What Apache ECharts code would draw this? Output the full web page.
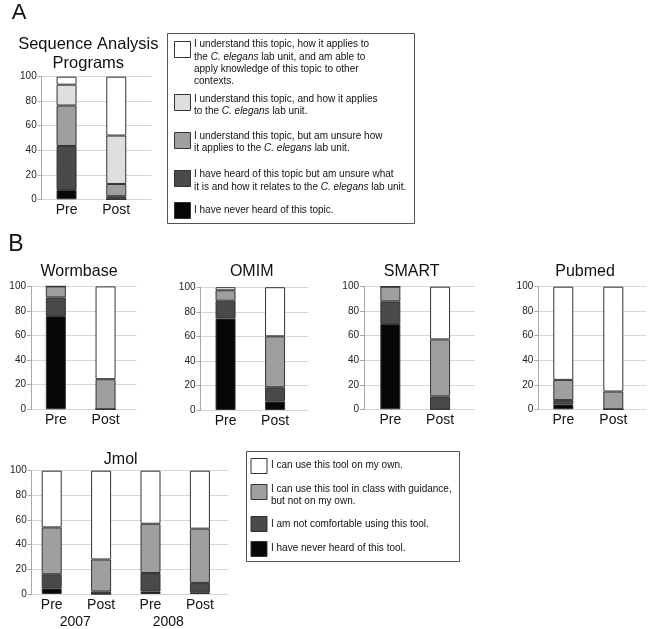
<!DOCTYPE html>
<html><head><meta charset="utf-8">
<script src="https://cdn.jsdelivr.net/npm/echarts@6/dist/echarts.min.js"></script>
<style>html,body{margin:0;padding:0;background:#fff}#c{width:648px;height:629px}</style>
</head><body><div id="c"></div>
<script>
// ---------- DATA ----------
const prePost = ['Pre', 'Post'];
const jmolCats = ['Pre', 'Post', 'Pre', 'Post'];
const jmolYears = ['2007', '2008'];

// Panel A levels, bottom to top of stack
const levelsA = [
  'I have never heard of this topic.',
  'I have heard of this topic but am unsure what\nit is and how it relates to the {i|C. elegans} lab unit.',
  'I understand this topic, but am unsure how\nit applies to the {i|C. elegans} lab unit.',
  'I understand this topic, and how it applies\nto the {i|C. elegans} lab unit.',
  'I understand this topic, how it applies to\nthe {i|C. elegans} lab unit, and am able to\napply knowledge of this topic to other\ncontexts.'
];
const seqNever      = [7.5, 0];
const seqHeard      = [36, 2.5];
const seqUnsure     = [33, 10];
const seqUnderstand = [17, 39.5];
const seqApply      = [6.5, 48];

// Panel B levels, bottom to top of stack
const levelsB = [
  'I have never heard of this tool.',
  'I am not comfortable using this tool.',
  'I can use this tool in class with guidance,\nbut not on my own.',
  'I can use this tool on my own.'
];
const wormNever = [76, 0],   wormUncomf = [15, 0],    wormGuided = [9, 24.5],   wormOwn = [0, 75.5];
const omimNever = [74.5, 7], omimUncomf = [14.5, 11.5], omimGuided = [8.5, 41.5], omimOwn = [2.5, 40];
const smartNever = [69.5, 0], smartUncomf = [18.5, 10.5], smartGuided = [12, 46.5], smartOwn = [0, 43];
const pubNever = [4, 0],     pubUncomf = [3.5, 0],    pubGuided = [16.5, 14.5], pubOwn = [76, 85.5];
const jmolNever  = [4.5, 0, 2, 1];
const jmolUncomf = [11.5, 2, 15, 8];
const jmolGuided = [38, 26, 40, 44];
const jmolOwn    = [46, 72, 43, 47];

// ---------- STYLE / LAYOUT ----------
const FONT = '"Liberation Sans", Arial, Helvetica, sans-serif';
const colorsA = ['#070707', '#4a4a4a', '#9f9f9f', '#dedede', '#ffffff'];
const colorsB = ['#070707', '#4a4a4a', '#9f9f9f', '#ffffff'];

const panels = [
  { title: 'Sequence Analysis\nPrograms', tx: 88.3, ty: 53.8, tsize: 16.5, cats: prePost,
    data: [seqNever, seqHeard, seqUnsure, seqUnderstand, seqApply], names: levelsA, colors: colorsA,
    axisX: 41.7, barLeft: 41.7, barW: 99.4, gridRight: 151.7, top: 76.7, bottom: 199.3 },
  { title: 'Wormbase', tx: 79, ty: 271.7, tsize: 16, cats: prePost,
    data: [wormNever, wormUncomf, wormGuided, wormOwn], names: levelsB, colors: colorsB,
    axisX: 31, barLeft: 31, barW: 99.4, gridRight: 136.7, top: 286.4, bottom: 409.3 },
  { title: 'OMIM', tx: 251.7, ty: 272, tsize: 16, cats: prePost,
    data: [omimNever, omimUncomf, omimGuided, omimOwn], names: levelsB, colors: colorsB,
    axisX: 200.5, barLeft: 200.8, barW: 99, gridRight: 308, top: 287.2, bottom: 410 },
  { title: 'SMART', tx: 411.7, ty: 272, tsize: 16, cats: prePost,
    data: [smartNever, smartUncomf, smartGuided, smartOwn], names: levelsB, colors: colorsB,
    axisX: 364, barLeft: 365.5, barW: 99.4, gridRight: 475, top: 286.7, bottom: 409.3 },
  { title: 'Pubmed', tx: 585, ty: 272, tsize: 16, cats: prePost,
    data: [pubNever, pubUncomf, pubGuided, pubOwn], names: levelsB, colors: colorsB,
    axisX: 538.3, barLeft: 538.3, barW: 100, gridRight: 646, top: 286.7, bottom: 409.3 },
  { title: 'Jmol', tx: 120.7, ty: 460, tsize: 16, cats: jmolCats,
    data: [jmolNever, jmolUncomf, jmolGuided, jmolOwn], names: levelsB, colors: colorsB,
    axisX: 31.7, barLeft: 27, barW: 197.6, gridRight: 228, top: 470.7, bottom: 594,
    years: jmolYears, yearLeft: 28.8, yearW: 186 }
];

const grid = [], xAxis = [], yAxis = [], series = [], graphic = [];
const stripMarkup = s => s.replace(/\{i\|([^}]*)\}/g, '$1').replace(/\n/g, ' ');

panels.forEach((p, pi) => {
  const h = p.bottom - p.top;
  // background grid: y axis, gridlines
  const gBg = grid.length;
  grid.push({ left: p.axisX, top: p.top, width: p.gridRight - p.axisX, height: h });
  xAxis.push({ gridIndex: gBg, type: 'value', min: 0, max: 1, show: false });
  yAxis.push({
    gridIndex: gBg, type: 'value', min: 0, max: 100, interval: 20,
    axisLine: { show: true, lineStyle: { color: '#a8a8a8', width: 1 } },
    axisTick: { show: true, length: 4, lineStyle: { color: '#a8a8a8' } },
    splitLine: { show: true, lineStyle: { color: '#d6d6d6', width: 1 } },
    axisLabel: { fontSize: 10, color: '#222', margin: 5, fontFamily: FONT }
  });
  // bar grid
  const gBar = grid.length;
  grid.push({ left: p.barLeft, top: p.top, width: p.barW, height: h });
  const xi = xAxis.length;
  xAxis.push({
    gridIndex: gBar, type: 'category', data: p.cats,
    axisLine: { show: false }, axisTick: { show: false },
    axisLabel: { interval: 0, fontSize: 14, color: '#111', margin: 4, fontFamily: FONT }
  });
  const yi = yAxis.length;
  yAxis.push({ gridIndex: gBar, type: 'value', min: 0, max: 100, show: false });
  if (p.years) {
    const gY = grid.length;
    grid.push({ left: p.yearLeft, top: p.top, width: p.yearW, height: h });
    xAxis.push({
      gridIndex: gY, type: 'category', data: p.years,
      axisLine: { show: false }, axisTick: { show: false },
      axisLabel: { interval: 0, fontSize: 14, color: '#111', margin: 22.5, fontFamily: FONT }
    });
    yAxis.push({ gridIndex: gY, type: 'value', min: 0, max: 100, show: false });
  }
  p.data.forEach((arr, li) => {
    series.push({
      type: 'bar', name: stripMarkup(p.names[li]), stack: 'p' + pi,
      xAxisIndex: xi, yAxisIndex: yi, data: arr, barWidth: 20,
      itemStyle: { color: p.colors[li], borderColor: '#333', borderWidth: 1 },
      emphasis: { disabled: true }, silent: true
    });
  });
  graphic.push({
    type: 'text', x: p.tx, y: p.ty,
    style: { text: p.title, fontSize: p.tsize, fontFamily: FONT, fill: '#111',
      textAlign: 'center', textVerticalAlign: 'middle', lineHeight: 19 }
  });
});

// Panel letters
graphic.push({ type: 'text', x: 19, y: 13, style: { text: 'A', fontSize: 22, fontFamily: FONT, fill: '#111', textAlign: 'center', textVerticalAlign: 'middle' } });
graphic.push({ type: 'text', x: 16, y: 245, style: { text: 'B', fontSize: 23, fontFamily: FONT, fill: '#111', textAlign: 'center', textVerticalAlign: 'middle' } });

// Legend A (top to bottom = reverse of stack)
const legA = { box: [167.5, 33.5, 247, 190], swX: 174, swW: 16, swH: 16, txX: 194, lh: 12.3,
  swTops: [40.7, 94, 132, 169.7, 202], txTops: [38.5, 92.9, 130.2, 168.5, 203.8] };
const legB = { box: [246.5, 451.5, 213, 110], swX: 250.5, swW: 16, swH: 15, txX: 271, lh: 12.7,
  swTops: [458.3, 484.3, 516, 540.7], txTops: [459.3, 482.6, 518, 542] };

function buildLegend(L, names, colors) {
  graphic.push({ type: 'rect', shape: { x: L.box[0], y: L.box[1], width: L.box[2], height: L.box[3] },
    style: { fill: '#fff', stroke: '#555', lineWidth: 1 }, z: 1 });
  const n = names.length;
  for (let k = 0; k < n; k++) {
    const li = n - 1 - k;
    graphic.push({ type: 'rect', shape: { x: L.swX + 0.5, y: Math.round(L.swTops[k]) + 0.5, width: L.swW, height: L.swH },
      style: { fill: colors[li], stroke: '#333', lineWidth: 1 }, z: 2 });
    graphic.push({ type: 'text', x: L.txX, y: L.txTops[k], z: 2,
      style: { text: names[li], fontSize: 10, fontFamily: FONT, fill: '#111',
        textVerticalAlign: 'top', lineHeight: L.lh,
        rich: { i: { fontStyle: 'italic', fontSize: 10, fontFamily: FONT, fill: '#111', lineHeight: L.lh } } } });
  }
}
buildLegend(legA, levelsA, colorsA);
buildLegend(legB, levelsB, colorsB);

const chart = echarts.init(document.getElementById('c'), null, { renderer: 'canvas' });
chart.setOption({
  animation: false,
  backgroundColor: '#fff',
  textStyle: { fontFamily: FONT },
  grid, xAxis, yAxis, series, graphic
});
</script>
</body></html>
